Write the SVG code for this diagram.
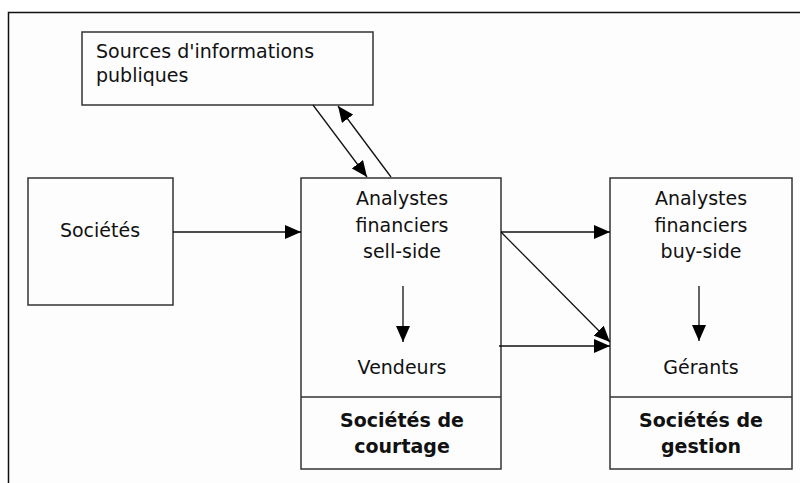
<svg xmlns="http://www.w3.org/2000/svg" width="800" height="483" viewBox="0 0 800 483">
<style>
.box{fill:none;stroke:#333;stroke-width:1.5}
.t{font-family:"DejaVu Sans",Verdana,sans-serif;font-size:19px;fill:#111}
.c{text-anchor:middle}
.b{font-weight:bold}
.ln{stroke:#111;stroke-width:1.3;fill:none;marker-end:url(#ah)}
</style>
<defs>
<marker id="ah" viewBox="0 0 16 14" refX="16" refY="7" markerWidth="16" markerHeight="14" markerUnits="userSpaceOnUse" orient="auto">
<path d="M0,0 L16,7 L0,14 Z" fill="#000"/>
</marker>
</defs>
<rect x="8.5" y="12.5" width="792" height="471" fill="#fdfdfd"/>
<path d="M8.5,483 V12.5 H800" fill="none" stroke="#111" stroke-width="1.5"/>
<g id="sources">
<rect class="box" x="82" y="32" width="291" height="73" fill="#fff"/>
<text class="t" x="96" y="58">Sources d'informations</text>
<text class="t" x="96" y="82">publiques</text>
</g>
<g id="societes">
<rect class="box" x="28" y="178" width="145" height="127"/>
<text class="t c" x="100" y="237">Sociétés</text>
</g>
<g id="courtage">
<rect class="box" x="301" y="178" width="200" height="291"/>
<line x1="301" y1="397" x2="501" y2="397" stroke="#333" stroke-width="1.5"/>
<text class="t c" x="402" y="205">Analystes</text>
<text class="t c" x="402" y="232">financiers</text>
<text class="t c" x="402" y="258">sell-side</text>
<text class="t c" x="402" y="374">Vendeurs</text>
<text class="t c b" x="402" y="427">Sociétés de</text>
<text class="t c b" x="402" y="453">courtage</text>
</g>
<g id="gestion">
<rect class="box" x="610" y="178" width="182" height="291"/>
<line x1="610" y1="397" x2="792" y2="397" stroke="#333" stroke-width="1.5"/>
<text class="t c" x="701" y="205">Analystes</text>
<text class="t c" x="701" y="232">financiers</text>
<text class="t c" x="701" y="258">buy-side</text>
<text class="t c" x="701" y="374">Gérants</text>
<text class="t c b" x="701" y="427">Sociétés de</text>
<text class="t c b" x="701" y="453">gestion</text>
</g>
<g id="connectors">
<line class="ln" x1="313" y1="105" x2="367" y2="177"/>
<line class="ln" x1="391" y1="177" x2="338" y2="106"/>
<line class="ln" x1="173" y1="232" x2="301" y2="232"/>
<line class="ln" x1="501" y1="232" x2="610" y2="232"/>
<line class="ln" x1="501" y1="232" x2="610" y2="342"/>
<line class="ln" x1="499" y1="346" x2="610" y2="346"/>
<line class="ln" x1="403" y1="286" x2="403" y2="342"/>
<line class="ln" x1="699" y1="286" x2="699" y2="341"/>
</g>
</svg>
